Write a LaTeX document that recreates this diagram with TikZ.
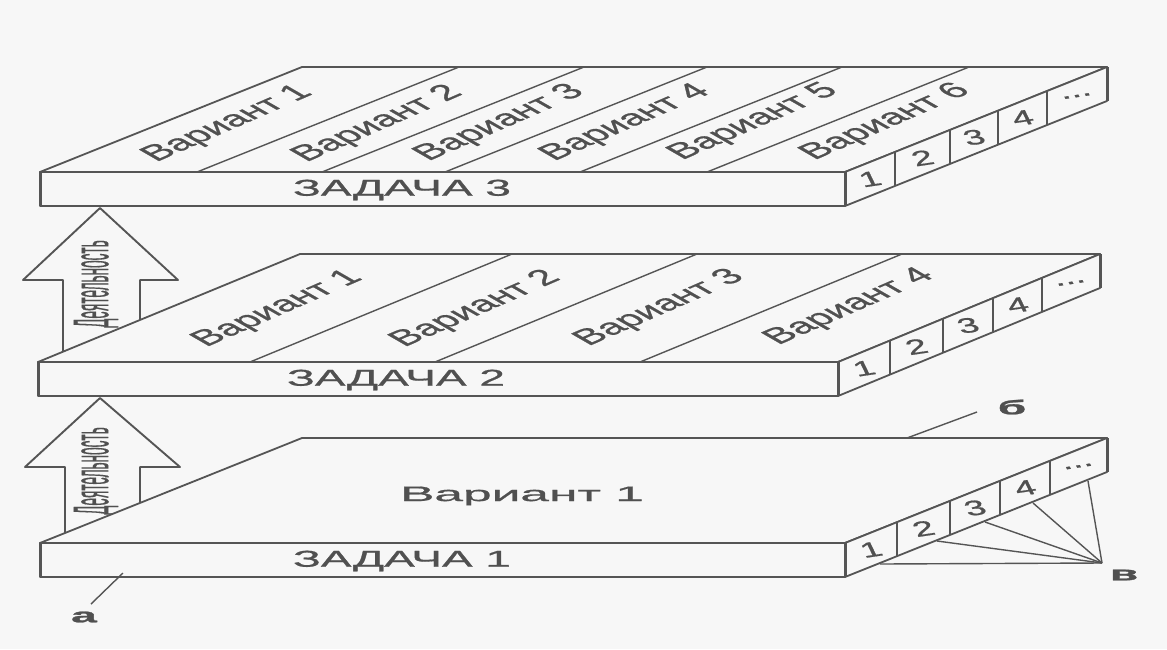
\documentclass[tikz,border=0pt]{standalone}
\usepackage{fontspec}
\setmainfont{Liberation Sans}
\newfontfamily\scanfont{Liberation Sans}[FakeBold=0.7]
\newfontfamily\scanbold{Liberation Sans}[FakeBold=1.2]
\definecolor{bg}{RGB}{247,247,247}
\definecolor{ink}{RGB}{85,85,85}
\definecolor{txt}{RGB}{80,80,80}
\newcommand{\celldots}{...}
\newcommand{\drawslab}[6]{%
  \coordinate (#1fl) at (#2,#4);
  \coordinate (#1fr) at (#3,#4);
  \coordinate (#1bl) at ({#2+#5},{#4-#6});
  \coordinate (#1br) at ({#3+#5},{#4-#6});
  \coordinate (#1flb) at (#2,{#4+34});
  \coordinate (#1frb) at (#3,{#4+34});
  \coordinate (#1brb) at ({#3+#5},{#4-#6+34});
  \filldraw[face] (#1fl) -- (#1bl) -- (#1br) -- (#1fr) -- cycle;
  \filldraw[face] (#1fl) -- (#1fr) -- (#1frb) -- (#1flb) -- cycle;
  \filldraw[face] (#1fr) -- (#1br) -- (#1brb) -- (#1frb) -- cycle;
  \draw[thickedge] (#1fl) -- (#1flb);
  \draw[thickedge] (#1fr) -- (#1frb);
  \draw[thickedge] (#1br) -- (#1brb);
}
\begin{document}
\begin{tikzpicture}[x=1pt,y=-1pt,line join=round,
  face/.style={draw=ink,fill=bg,line width=1.8pt},
  thickedge/.style={draw=ink,line width=3pt},
  divider/.style={draw=ink,line width=1.4pt},
  arrowshape/.style={draw=ink,fill=bg,line width=1.9pt},
  vartext/.style={text=txt,inner sep=0pt,font=\scanfont\fontsize{22}{22}\selectfont,xscale=2.0,rotate=41},
  bigtext/.style={text=txt,inner sep=0pt,font=\scanfont\fontsize{21}{21}\selectfont,xscale=2.45},
  tasktext/.style={text=txt,inner sep=0pt,font=\scanfont\fontsize{23}{23}\selectfont,xscale=2.0},
  digit/.style={text=txt,inner sep=0pt,font=\scanfont\fontsize{21}{21}\selectfont,xscale=1.8,rotate=15},
  acttext/.style={text=txt,inner sep=0pt,font=\scanfont\fontsize{20}{20}\selectfont,rotate=90,xscale=0.68,yscale=2.5},
  lettertext/.style={text=txt,inner sep=0pt,font=\scanbold\bfseries\fontsize{20}{20}\selectfont,xscale=2.3}]
\useasboundingbox[fill=bg] (0,0) rectangle (1167,649);

% ---- arrows "Деятельность" ----
\filldraw[arrowshape] (100,208) -- (178,280) -- (140,280) -- (140,375) -- (63,375) -- (63,280) -- (23,280) -- cycle;
\filldraw[arrowshape] (100,398) -- (180,467) -- (140,467) -- (140,560) -- (65,560) -- (65,467) -- (25,467) -- cycle;
\node[acttext] (act2) at (96,284) {Деятельность};
\node[acttext] (act1) at (96,471) {Деятельность};

% ---- slab 3 (top) ----
\drawslab{t}{40}{845}{172}{262}{105}
\foreach \a in {197,322,445,580,707}
  \draw[divider] (\a,172) -- ++(262,-105);
\foreach \c in {895,950,998,1047}
  \draw[divider] (\c,{172-(\c-845)*0.4008}) -- ++(0,34);
\foreach \a/\b/\t [count=\i] in {845/895/1,895/950/2,950/998/3,998/1047/4,1047/1107/\celldots}
  \node[digit] (td\i) at ({(\a+\b)/2},{172-((\a+\b)/2-845)*0.4008+17}) {\t};
\node[vartext] (tv1) at (228,124) {Вариант 1};
\node[vartext] (tv2) at (378,124) {Вариант 2};
\node[vartext] (tv3) at (500,123) {Вариант 3};
\node[vartext] (tv4) at (626,123) {Вариант 4};
\node[vartext] (tv5) at (754,122) {Вариант 5};
\node[vartext] (tv6) at (886,122) {Вариант 6};
\node[tasktext] (tz) at (402,190) {ЗАДАЧА 3};

% ---- slab 2 (middle) ----
\drawslab{m}{38}{838}{362}{262}{108}
\foreach \a in {250,435,640}
  \draw[divider] (\a,362) -- ++(262,-108);
\foreach \c in {890,943,993,1042}
  \draw[divider] (\c,{362-(\c-838)*0.4122}) -- ++(0,34);
\foreach \a/\b/\t [count=\i] in {838/890/1,890/943/2,943/993/3,993/1042/4,1042/1100/\celldots}
  \node[digit] (md\i) at ({(\a+\b)/2},{362-((\a+\b)/2-838)*0.4122+17}) {\t};
\node[vartext] (mv1) at (278,309) {Вариант 1};
\node[vartext] (mv2) at (476,309) {Вариант 2};
\node[vartext] (mv3) at (660,308) {Вариант 3};
\node[vartext] (mv4) at (850,307) {Вариант 4};
\node[tasktext] (mz) at (396,380) {ЗАДАЧА 2};

% ---- slab 1 (bottom) ----
\drawslab{b}{40}{845}{543}{262}{105}
\foreach \c in {897,950,1000,1050}
  \draw[divider] (\c,{543-(\c-845)*0.4008}) -- ++(0,34);
\foreach \a/\b/\t [count=\i] in {845/897/1,897/950/2,950/1000/3,1000/1050/4,1050/1107/\celldots}
  \node[digit] (bd\i) at ({(\a+\b)/2},{543-((\a+\b)/2-845)*0.4008+17}) {\t};
\node[bigtext] (bv1) at (522,496) {Вариант 1};
\node[tasktext] (bz) at (402,561) {ЗАДАЧА 1};

% ---- fan to "в" ----
\coordinate (vapex) at (1102,563);
\coordinate (f1) at (880,564);
\coordinate (f2) at (937,541);
\coordinate (f3) at (985,522);
\coordinate (f4) at (1033,503);
\coordinate (f5) at (1088,481);
\foreach \k in {1,...,5}
  \draw[divider] (vapex) -- (f\k);

% ---- labels ----
\node[lettertext] (la) at (84,617) {а};
\node[lettertext] (lb) at (1012,407) {б};
\node[lettertext] (lv) at (1124,575) {в};
\coordinate (pa) at (123,573);
\coordinate (qa) at (91,604);
\draw[divider] (pa) -- (qa);
\coordinate (pb) at (907,438);
\coordinate (qb) at (977,412);
\draw[divider] (pb) -- (qb);
\end{tikzpicture}
\end{document}
